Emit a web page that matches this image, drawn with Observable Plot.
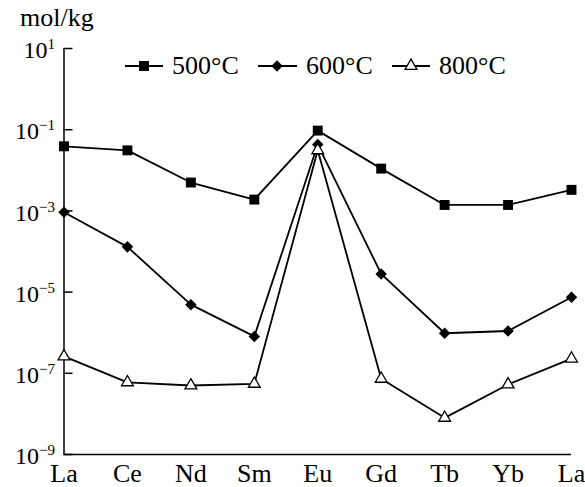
<!DOCTYPE html>
<html><head><meta charset="utf-8">
<script src="https://cdn.jsdelivr.net/npm/d3@7"></script>
<script src="https://cdn.jsdelivr.net/npm/@observablehq/plot@0.6"></script>
<style>
body{margin:0;background:#fff}
svg{display:block}
</style>
</head><body><div id="chart"></div>
<script>
const elements = ["La","Ce","Nd","Sm","Eu","Gd","Tb","Yb","La"];
const series = ["500°C","600°C","800°C"];
const v500 = [0.039,0.031,0.005,0.0019,0.095,0.011,0.0014,0.0014,0.0033];
const v600 = [9.3e-4,1.3e-4,4.9e-6,8.1e-7,0.043,2.8e-5,9.7e-7,1.1e-6,7.5e-6];
const v800 = [2.6e-7,6.0e-8,5.0e-8,5.5e-8,0.031,7.3e-8,8e-9,5.3e-8,2.3e-7];
const yTicks = [1e1,1e-1,1e-3,1e-5,1e-7,1e-9];
const yTickExp = ["1","−1","−3","−5","−7","−9"];
const yUnit = "mol/kg";

const FONT = "Liberation Serif";
const values = [v500, v600, v800];
const symbols = ["square","diamond2","triangle"];
const fills = ["black","black","white"];
const radii = [5.6, 5.2, 4.4];
const rows = values.map((vals, s) => vals.map((v, i) => ({i, el: elements[i], series: series[s], v})));

const W = 585, H = 487, ML = 63.5, MR = 14, MT = 48, MB = 33;

const marks = [
  Plot.ruleX([0], {strokeWidth: 1.5}),
  Plot.ruleY([1e-9], {strokeWidth: 1.5}),
  Plot.tickY(yTicks, {y: d => d, strokeWidth: 1.5, insetRight: W - ML - MR - 9}),
  Plot.axisY({ticks: yTicks, tickSize: 0, tickPadding: 9, fontSize: 24, dy: 2, fontFamily: FONT,
    fontVariant: "normal",
    tickFormat: d => "10" + yTickExp[yTicks.indexOf(d)], label: null}),
  Plot.axisX({ticks: d3.range(elements.length), tickSize: 0, tickPadding: 9, fontSize: 26, fontFamily: FONT,
    fontVariant: "normal",
    tickFormat: i => elements[i], label: null}),
  ...rows.map(r => Plot.line(r, {x: "i", y: "v", stroke: "black", strokeWidth: 1.8})),
  ...rows.map((r, s) => Plot.dot(r, {x: "i", y: "v", symbol: () => symbols[s], r: radii[s],
    fill: fills[s], stroke: "black", strokeWidth: s === 2 ? 1.3 : 0}))
];

const chart = Plot.plot({
  width: W, height: H,
  marginLeft: ML, marginRight: MR, marginTop: MT, marginBottom: MB,
  x: {type: "linear", domain: [0, elements.length - 1]},
  y: {type: "log", domain: [1e-9, 1e1]},
  symbol: {domain: symbols, range: symbols},
  marks
});
chart.setAttribute("font-family", FONT);
document.getElementById("chart").appendChild(chart);

const svg = d3.select(chart);
// superscripts on y tick labels
svg.selectAll('g[aria-label="y-axis tick label"] text').each(function() {
  const t = this.textContent;
  const base = t.slice(0, 2), exp = t.slice(2);
  const sel = d3.select(this);
  sel.text(base);
  sel.append("tspan").attr("font-size", 15).attr("dy", -9).text(exp);
});

// unit label
svg.append("text").attr("x", 20).attr("y", 26).attr("font-size", 26)
  .attr("text-anchor", "start").attr("fill", "black").text(yUnit);

// legend
const legendItems = [[125,163,144,172],[258,297,277,306],[392,430,411,439]];
const lg = svg.append("g").attr("font-size", 26).attr("text-anchor", "start");
const symMap = {square: d3.symbolSquare, diamond2: d3.symbolDiamond2, triangle: d3.symbolTriangle};
series.forEach((name, s) => {
  const [x1, x2, mx, tx] = legendItems[s];
  const ly = 66;
  lg.append("line").attr("x1", x1).attr("x2", x2).attr("y1", ly).attr("y2", ly)
    .attr("stroke", "black").attr("stroke-width", 1.8);
  lg.append("path").attr("transform", `translate(${mx},${ly})`)
    .attr("d", d3.symbol(symMap[symbols[s]], radii[s] * radii[s] * Math.PI)())
    .attr("fill", fills[s]).attr("stroke", "black").attr("stroke-width", s === 2 ? 1.3 : 0);
  lg.append("text").attr("x", tx).attr("y", 74).attr("fill", "black").text(name);
});
chart.style.setProperty("font-family", "'Liberation Serif', serif", "important");
svg.selectAll("text, tspan").each(function() {
  this.style.setProperty("font-family", "'Liberation Serif', serif", "important");
});
</script>
</body></html>
